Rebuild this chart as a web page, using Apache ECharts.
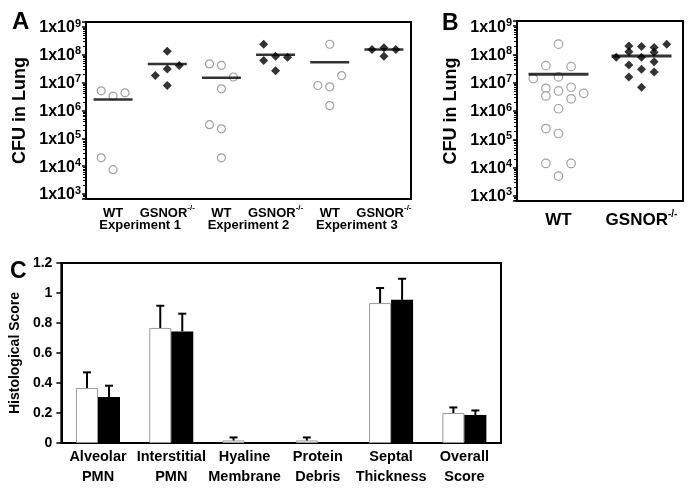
<!DOCTYPE html>
<html>
<head>
<meta charset="utf-8">
<script src="https://cdn.jsdelivr.net/npm/echarts@6/dist/echarts.min.js"></script>
<style>
  html, body { margin: 0; padding: 0; background: #fff; }
  #chart { width: 695px; height: 493px; }
</style>
</head>
<body>
<div id="chart"></div>
<script>
// ---- panel A: CFU in lung, three experiments ----
const aCategories = ['WT', 'GSNOR', 'WT', 'GSNOR', 'WT', 'GSNOR'];
const aExperiments = ['Experiment 1', 'Experiment 2', 'Experiment 3'];
const aCfu = [
    [5.1e6, 3.3e6, 4.3e6, 2.0e4, 7.5e3],
    [1.35e8, 3.1e7, 1.8e7, 4.1e7, 7.9e6],
    [4.7e7, 4.2e7, 6.0e6, 1.6e7, 3.1e5, 2.2e5, 2.0e4],
    [2.4e8, 6.2e7, 8.9e7, 8.2e7, 2.7e7],
    [2.4e8, 1.8e7, 7.9e6, 7.1e6, 1.5e6],
    [1.55e8, 1.8e8, 1.55e8, 8.9e7]
];
// jitter column of each point inside its group
const aSlots = [
    [-1, 0, 1, -1, 0],
    [0, 0, -1, 1, 0],
    [-1, 0, 0, 1, -1, 0, 0],
    [-1, -1, 0, 1, 0],
    [0, 1, -1, 0, 0],
    [-1, 0, 1, 0]
];
const aMeans = [2.5e6, 4.7e7, 1.5e7, 1.0e8, 5.4e7, 1.55e8];

// ---- panel B: pooled ----
const bCategories = ['WT', 'GSNOR'];
const bCfu = [
    [2.3e8, 4.0e7, 3.7e7, 1.4e7, 1.6e7, 6.3e6, 6.9e6, 5.1e6, 3.4e6, 2.7e6, 4.2e6, 1.2e6, 2.4e5, 1.6e5, 1.4e4, 1.4e4, 5.0e3],
    [2.0e8, 1.9e8, 1.75e8, 2.3e8, 1.25e8, 1.2e8, 7.9e7, 7.9e7, 5.5e7, 4.2e7, 3.0e7, 2.4e7, 1.6e7, 6.9e6]
];
const bSlots = [
    [0, -1, 1, -2, 0, -1, 1, 0, -1, 1, 2, 0, -1, 0, -1, 1, 0],
    [-1, 0, 1, 2, -1, 1, -2, 0, 1, -1, 0, 1, -1, 0]
];
const bMeans = [2.0e7, 8.8e7];

// ---- panel C: histology ----
const cCategories = ['Alveolar\nPMN', 'Interstitial\nPMN', 'Hyaline\nMembrane', 'Protein\nDebris', 'Septal\nThickness', 'Overall\nScore'];
const cWt = [0.367, 0.767, 0.017, 0.017, 0.933, 0.2];
const cWtErr = [0.104, 0.148, 0.02, 0.02, 0.1, 0.037];
const cKo = [0.307, 0.744, 0, 0, 0.955, 0.187];
const cKoErr = [0.075, 0.118, 0, 0, 0.14, 0.03];

const SANS = '"Liberation Sans", Arial, sans-serif';
const LOG_MIN = Math.pow(10, 2.82);
const LOG_MAX = Math.pow(10, 9.18);

const chart = echarts.init(document.getElementById('chart'), null, {renderer: 'canvas'});

const logLabel = (v) => {
    const e = Math.log10(v);
    if (Math.abs(e - Math.round(e)) > 0.01) return '';
    return '{m|1x10}{s|' + Math.round(e) + '}';
};
const logRich = {
    m: {fontFamily: SANS, fontWeight: 'bold', fontSize: 16, color: '#000', lineHeight: 18, verticalAlign: 'bottom'},
    s: {fontFamily: SANS, fontWeight: 'bold', fontSize: 11, color: '#000', lineHeight: 11, verticalAlign: 'top'}
};
const genoLabel = (v) => v === 'GSNOR' ? '{m|GSNOR}{s|-/-}' : '{m|' + v + '}';
const genoRich = (size) => ({
    m: {fontFamily: SANS, fontWeight: 'bold', fontSize: size, color: '#000', lineHeight: size + 3, verticalAlign: 'bottom'},
    s: {fontFamily: SANS, fontWeight: 'bold', fontSize: Math.round(size * 0.6), color: '#000', lineHeight: Math.round(size * 0.6), verticalAlign: 'top'}
});

const logAxis = (gridIndex) => ({
    type: 'log',
    gridIndex: gridIndex,
    logBase: 10,
    min: LOG_MIN,
    max: LOG_MAX,
    name: 'CFU in Lung',
    nameLocation: 'middle',
    nameGap: 57,
    nameRotate: 90,
    nameTextStyle: {fontFamily: SANS, fontWeight: 'bold', fontSize: 18, color: '#000'},
    axisLine: {show: true, onZero: false, lineStyle: {color: '#000', width: 2}},
    axisTick: {show: true, length: 4, lineStyle: {color: '#000', width: 1.5}},
    minorTick: {show: true, splitNumber: 9, length: 3, lineStyle: {color: '#000', width: 1}},
    splitLine: {show: false},
    minorSplitLine: {show: false},
    axisLabel: {margin: 5, formatter: logLabel, rich: logRich}
});

const pointData = (values, slots, step) => {
    const out = [];
    values.forEach((grp, g) => {
        grp.forEach((v, k) => out.push([g + slots[g][k] * step, v]));
    });
    return out;
};
const isWt = (cats) => (p) => cats[Math.round(p[0])] === 'WT';

const aPoints = pointData(aCfu, aSlots, 0.22);
const bPoints = pointData(bCfu, bSlots, 0.152);

const circleStyle = {color: '#fff', borderColor: '#8a8a8a', borderWidth: 1.2};
const diamondStyle = {color: '#000'};

const errorBar = (shift) => (params, api) => {
    const e = api.value(2);
    if (!(e > 0)) return null;
    const base = api.coord([api.value(0), api.value(1)]);
    const top = api.coord([api.value(0), api.value(1) + e]);
    const x = base[0] + shift;
    return {
        type: 'group',
        children: [
            {type: 'line', shape: {x1: x, y1: base[1], x2: x, y2: top[1]}, style: {stroke: '#000', lineWidth: 2}},
            {type: 'line', shape: {x1: x - 4, y1: top[1], x2: x + 4, y2: top[1]}, style: {stroke: '#000', lineWidth: 2}}
        ]
    };
};

const option = {
    animation: false,
    backgroundColor: '#fff',
    title: [
        {text: 'A', left: 7, top: 5, textStyle: {fontFamily: SANS, fontWeight: 'bold', fontSize: 24, color: '#000'}},
        {text: 'B', left: 437, top: 7, textStyle: {fontFamily: SANS, fontWeight: 'bold', fontSize: 23, color: '#000'}},
        {text: 'C', left: 5, top: 255, textStyle: {fontFamily: SANS, fontWeight: 'bold', fontSize: 23, color: '#000'}}
    ],
    grid: [
        {left: 86, top: 22, width: 325, height: 177, show: true, borderColor: '#000', borderWidth: 2},
        {left: 517, top: 21, width: 166, height: 180, show: true, borderColor: '#000', borderWidth: 2},
        {left: 60, top: 263, width: 441, height: 180, show: true, borderColor: '#000', borderWidth: 2}
    ],
    xAxis: [
        // A labels
        {
            type: 'category', gridIndex: 0, data: aCategories, position: 'bottom',
            axisLine: {show: false}, axisTick: {show: false},
            axisLabel: {margin: 5, interval: 0, formatter: genoLabel, rich: genoRich(13)}
        },
        // A jitter positions
        {type: 'value', gridIndex: 0, min: -0.5, max: 5.5, show: false},
        // A experiment labels
        {
            type: 'category', gridIndex: 0, data: aExperiments, position: 'bottom',
            axisLine: {show: false}, axisTick: {show: false},
            axisLabel: {margin: 20, interval: 0, fontFamily: SANS, fontWeight: 'bold', fontSize: 13, color: '#000'}
        },
        // B labels
        {
            type: 'category', gridIndex: 1, data: bCategories, position: 'bottom',
            axisLine: {show: false}, axisTick: {show: false},
            axisLabel: {margin: 8, interval: 0, formatter: genoLabel, rich: genoRich(17)}
        },
        {type: 'value', gridIndex: 1, min: -0.5, max: 1.5, show: false},
        // C
        {
            type: 'category', gridIndex: 2, data: cCategories, position: 'bottom',
            axisLine: {show: false}, axisTick: {show: false},
            axisLabel: {margin: 4, interval: 0, fontFamily: SANS, fontWeight: 'bold', fontSize: 14.5, lineHeight: 20, color: '#000'}
        }
    ],
    yAxis: [
        logAxis(0),
        logAxis(1),
        {
            type: 'value', gridIndex: 2, min: 0, max: 1.2, interval: 0.2,
            name: 'Histological Score', nameLocation: 'middle', nameGap: 29, nameRotate: 90,
            nameTextStyle: {fontFamily: SANS, fontWeight: 'bold', fontSize: 14, color: '#000'},
            axisLine: {show: true, lineStyle: {color: '#000', width: 2}},
            axisTick: {show: true, length: 5, lineStyle: {color: '#000', width: 1.5}},
            splitLine: {show: false},
            axisLabel: {
                margin: 9, fontFamily: SANS, fontWeight: 'bold', fontSize: 14, color: '#000',
                formatter: (v) => (v === 0 || Math.abs(v - 1) < 1e-9) ? String(Math.round(v)) : v.toFixed(1)
            }
        }
    ],
    series: [
        // panel A
        {
            type: 'scatter', xAxisIndex: 1, yAxisIndex: 0, symbol: 'circle', symbolSize: 8,
            itemStyle: circleStyle, data: aPoints.filter(isWt(aCategories))
        },
        {
            type: 'scatter', xAxisIndex: 1, yAxisIndex: 0, symbol: 'diamond', symbolSize: 9,
            itemStyle: diamondStyle, data: aPoints.filter((p) => !isWt(aCategories)(p))
        },
        {
            type: 'scatter', xAxisIndex: 1, yAxisIndex: 0, symbol: 'rect', symbolSize: [39, 2.5],
            itemStyle: {color: '#000'}, z: 3, data: aMeans.map((m, g) => [g, m])
        },
        // panel B
        {
            type: 'scatter', xAxisIndex: 4, yAxisIndex: 1, symbol: 'circle', symbolSize: 8.5,
            itemStyle: circleStyle, data: bPoints.filter(isWt(bCategories))
        },
        {
            type: 'scatter', xAxisIndex: 4, yAxisIndex: 1, symbol: 'diamond', symbolSize: 9,
            itemStyle: diamondStyle, data: bPoints.filter((p) => !isWt(bCategories)(p))
        },
        {
            type: 'scatter', xAxisIndex: 4, yAxisIndex: 1, symbol: 'rect', symbolSize: [60, 3],
            itemStyle: {color: '#000'}, z: 3, data: bMeans.map((m, g) => [g, m])
        },
        // panel C
        {
            type: 'bar', xAxisIndex: 5, yAxisIndex: 2, barWidth: 22, barGap: '0%',
            itemStyle: {color: '#fff', borderColor: '#9a9a9a', borderWidth: 1}, data: cWt
        },
        {
            type: 'bar', xAxisIndex: 5, yAxisIndex: 2, barWidth: 22, barGap: '0%',
            itemStyle: {color: '#000'}, data: cKo
        },
        {
            type: 'custom', xAxisIndex: 5, yAxisIndex: 2, renderItem: errorBar(-11), z: 4,
            data: cWt.map((v, i) => [i, v, cWtErr[i]])
        },
        {
            type: 'custom', xAxisIndex: 5, yAxisIndex: 2, renderItem: errorBar(11), z: 4,
            data: cKo.map((v, i) => [i, v, cKoErr[i]])
        }
    ]
};

chart.setOption(option);
</script>
</body>
</html>
